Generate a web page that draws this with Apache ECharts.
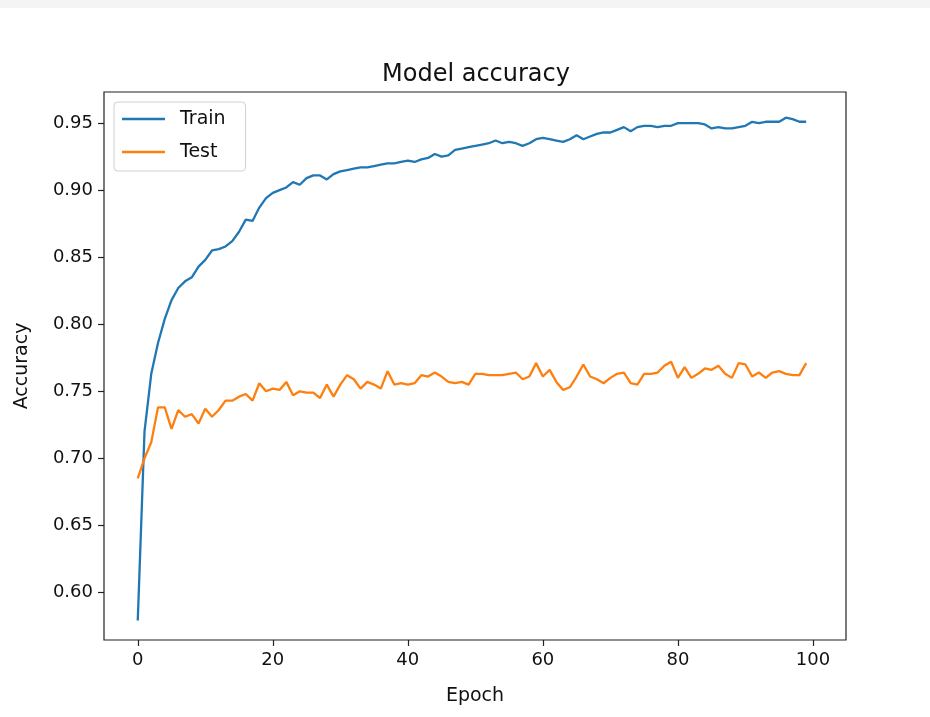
<!DOCTYPE html>
<html>
<head>
<meta charset="utf-8">
<script src="https://cdn.jsdelivr.net/npm/echarts@6/dist/echarts.min.js"></script>
<style>
  html, body { margin: 0; padding: 0; background: #fff; }
  #chart { width: 930px; height: 717px; }
</style>
</head>
<body>
<div id="chart"></div>
<script>
const trainAcc = [
  0.579, 0.720, 0.763, 0.786, 0.804, 0.818, 0.827, 0.832, 0.835, 0.843,
  0.848, 0.855, 0.856, 0.858, 0.862, 0.869, 0.878, 0.877, 0.887, 0.894,
  0.898, 0.900, 0.902, 0.906, 0.904, 0.909, 0.911, 0.911, 0.908, 0.912,
  0.914, 0.915, 0.916, 0.917, 0.917, 0.918, 0.919, 0.920, 0.920, 0.921,
  0.922, 0.921, 0.923, 0.924, 0.927, 0.925, 0.926, 0.930, 0.931, 0.932,
  0.933, 0.934, 0.935, 0.937, 0.935, 0.936, 0.935, 0.933, 0.935, 0.938,
  0.939, 0.938, 0.937, 0.936, 0.938, 0.941, 0.938, 0.940, 0.942, 0.943,
  0.943, 0.945, 0.947, 0.944, 0.947, 0.948, 0.948, 0.947, 0.948, 0.948,
  0.950, 0.950, 0.950, 0.950, 0.949, 0.946, 0.947, 0.946, 0.946, 0.947,
  0.948, 0.951, 0.950, 0.951, 0.951, 0.951, 0.954, 0.953, 0.951, 0.951
];
const testAcc = [
  0.685, 0.700, 0.712, 0.738, 0.738, 0.722, 0.736, 0.731, 0.733, 0.726,
  0.737, 0.731, 0.736, 0.743, 0.743, 0.746, 0.748, 0.743, 0.756, 0.750,
  0.752, 0.751, 0.757, 0.747, 0.750, 0.749, 0.749, 0.745, 0.755, 0.746,
  0.755, 0.762, 0.759, 0.752, 0.757, 0.755, 0.752, 0.765, 0.755, 0.756,
  0.755, 0.756, 0.762, 0.761, 0.764, 0.761, 0.757, 0.756, 0.757, 0.755,
  0.763, 0.763, 0.762, 0.762, 0.762, 0.763, 0.764, 0.759, 0.761, 0.771,
  0.761, 0.766, 0.757, 0.751, 0.753, 0.761, 0.770, 0.761, 0.759, 0.756,
  0.760, 0.763, 0.764, 0.756, 0.755, 0.763, 0.763, 0.764, 0.769, 0.772,
  0.760, 0.768, 0.760, 0.763, 0.767, 0.766, 0.769, 0.763, 0.760, 0.771,
  0.770, 0.761, 0.764, 0.760, 0.764, 0.765, 0.763, 0.762, 0.762, 0.771
];
const xTicks = [0, 20, 40, 60, 80, 100];
const yTicks = [0.60, 0.65, 0.70, 0.75, 0.80, 0.85, 0.90, 0.95];

const font = "DejaVu Sans";
const chart = echarts.init(document.getElementById("chart"));

const toPairs = (arr) => arr.map((v, i) => [i, v]);

const option = {
  backgroundColor: "#fff",
  animation: false,
  graphic: [
    { type: "rect", left: 0, top: 0, shape: { width: 930, height: 8 }, style: { fill: "#f4f4f4" } }
  ],
  title: {
    text: "Model accuracy",
    left: 377,
    top: 58,
    textStyle: { fontFamily: font, fontSize: 24, fontWeight: "normal", color: "#111" }
  },
  legend: {
    orient: "vertical",
    left: 114,
    top: 102,
    padding: [7, 20, 9, 8],
    itemGap: 13,
    itemWidth: 43,
    itemHeight: 2.5,
    icon: "rect",
    backgroundColor: "#fff",
    borderColor: "#d0d0d0",
    borderWidth: 1,
    borderRadius: 4,
    textStyle: { fontFamily: font, fontSize: 19, lineHeight: 20, color: "#111", padding: [0, 0, 0, 10] },
    data: ["Train", "Test"]
  },
  grid: {
    left: 104,
    right: 84,
    top: 92,
    bottom: 77,
    show: true,
    borderColor: "#222",
    borderWidth: 1.2,
    containLabel: false
  },
  xAxis: {
    type: "value",
    min: -5,
    max: 104.9,
    name: "Epoch",
    nameLocation: "middle",
    nameGap: 47,
    nameTextStyle: { fontFamily: font, fontSize: 19, color: "#111" },
    axisLine: { show: false, onZero: false },
    splitLine: { show: false },
    axisTick: { show: true, length: 6, customValues: xTicks, lineStyle: { color: "#222", width: 1.2 } },
    axisLabel: {
      customValues: xTicks,
      margin: 11,
      fontFamily: font,
      fontSize: 18,
      color: "#111"
    }
  },
  yAxis: {
    type: "value",
    min: 0.5645,
    max: 0.9732,
    name: "Accuracy",
    nameLocation: "middle",
    nameGap: 72,
    nameTextStyle: { fontFamily: font, fontSize: 19, color: "#111" },
    axisLine: { show: false, onZero: false },
    splitLine: { show: false },
    axisTick: { show: true, length: 6, customValues: yTicks, lineStyle: { color: "#222", width: 1.2 } },
    axisLabel: {
      customValues: yTicks,
      margin: 11,
      fontFamily: font,
      fontSize: 18,
      color: "#111",
      formatter: (v) => v.toFixed(2)
    }
  },
  series: [
    {
      name: "Train",
      type: "line",
      data: toPairs(trainAcc),
      showSymbol: false,
      symbol: "none",
      color: "#1f77b4",
      lineStyle: { width: 2.3, color: "#1f77b4" }
    },
    {
      name: "Test",
      type: "line",
      data: toPairs(testAcc),
      showSymbol: false,
      symbol: "none",
      color: "#ff7f0e",
      lineStyle: { width: 2.3, color: "#ff7f0e" }
    }
  ]
};
chart.setOption(option);
</script>
</body>
</html>
